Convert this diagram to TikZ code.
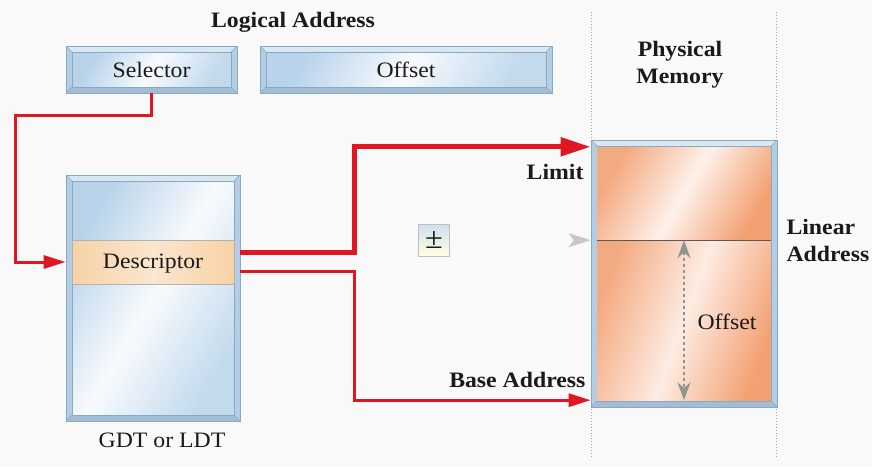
\documentclass[tikz,border=0pt]{standalone}
\usepackage{fontspec}
\setmainfont{Liberation Serif}[FakeStretch=1.08]
\usetikzlibrary{arrows.meta}
\definecolor{bgc}{HTML}{F9F9F9}
\definecolor{bordc}{HTML}{86A9C6}
\definecolor{bevelc}{HTML}{B3CEE4}
\definecolor{lightb}{HTML}{B8D3EA}
\definecolor{redl}{HTML}{E01620}
\definecolor{orng}{HTML}{F3A173}
\definecolor{descc}{HTML}{F7D2A6}
\definecolor{txt}{HTML}{1A1A1A}
\begin{document}
\begin{tikzpicture}[x=1pt,y=-1pt,
  every node/.style={text=txt, font=\fontsize{22}{26}\selectfont},
  hdr/.style={font=\fontsize{22}{27}\selectfont\bfseries},
  bevel/.style 2 args={draw=bordc, line width=0.7pt, fill=bevelc, inner sep=0pt,
    path picture={
      \coordinate (ppa) at (path picture bounding box.north west);
      \coordinate (ppb) at (path picture bounding box.south east);
      \coordinate (ppc) at (path picture bounding box.north east);
      \coordinate (ppd) at (path picture bounding box.south west);
      \coordinate (pia) at ([shift={(#1,#1)}]ppa);
      \coordinate (pib) at ([shift={(-#1,-#1)}]ppb);
      \coordinate (pic) at ([shift={(-#1,#1)}]ppc);
      \coordinate (pid) at ([shift={(#1,-#1)}]ppd);
      \fill[bevelc!50!white] (ppa) -- (ppc) -- (pic) -- (pia) -- cycle;
      \fill[bevelc!92!black] (ppd) -- (ppb) -- (pib) -- (pid) -- cycle;
      \shade[#2] (pia) rectangle (pib);
      \draw[bordc, line width=0.5pt] (pia) rectangle (pib);
      \draw[bordc, line width=0.5pt] (ppa) -- (pia) (ppb) -- (pib) (ppc) -- (pic) (ppd) -- (pid);
    }},
  blueglass/.style={left color=lightb, right color=lightb!85!white, middle color=white!90!lightb, shading angle=60},
  redarrow/.style={draw=redl, line width=3pt, -{Triangle[length=22pt,width=13pt]}},
  bigredarrow/.style={draw=redl, line width=5pt, -{Triangle[length=30pt,width=18pt]}},
  guide/.style={draw=gray!70, line width=0.9pt, dotted}
]
\useasboundingbox[fill=bgc] (0,0) rectangle (872,466);

% guides
\coordinate (gl1) at (591,12);
\coordinate (gl2) at (591,458);
\coordinate (gr1) at (776,12);
\coordinate (gr2) at (776,458);
\draw[guide] (gl1) -- (gl2);
\draw[guide] (gr1) -- (gr2);

% titles
\node[hdr] (logt) at (293,22) {Logical Address};
\node[hdr, align=center] (physt) at (680,65) {Physical\\Memory};
\node[hdr, align=left, anchor=west] (lint) at (783,240) {Linear\\Address};

% logical address boxes
\node[bevel={6}{blueglass}, minimum width=171pt, minimum height=47pt] (sel) at (151.5,69.5) {Selector};
\node[bevel={6}{blueglass}, minimum width=292pt, minimum height=47pt] (off) at (406,69.5) {Offset};

% GDT
\node[bevel={6}{blueglass}, minimum width=174pt, minimum height=246pt] (gdt) at (153,298) {};
\node[draw=gray!60, line width=0.5pt, inner sep=0pt, minimum width=162pt, minimum height=44pt,
  text height=17pt, text depth=5pt,
  left color=descc, right color=descc, middle color=descc!55!white] (desc) at (153,262) {Descriptor};
\node (gdtl) at (162,440) {GDT or LDT};

% physical memory
\node[bevel={6}{left color=orng, right color=orng}, minimum width=186pt, minimum height=267pt] (mem) at (684,273.5) {};
\node[inner sep=0pt, minimum width=174pt, minimum height=93pt,
  left color=orng!90!white, right color=orng, middle color=white!85!orng, shading angle=60] (memtop) at (684,193.5) {};
\node[inner sep=0pt, minimum width=174pt, minimum height=160pt,
  left color=orng!90!white, right color=orng, middle color=white!80!orng, shading angle=70] (membot) at (684,320) {};
\draw[gray!70!black, line width=0.6pt] (memtop.south west) -- (memtop.south east);
\node (offt) at (727,322) {Offset};

% plus-minus
\node[draw=gray!50, line width=0.5pt, minimum width=31pt, minimum height=32pt, inner sep=0pt,
  top color=lightb!70!white, bottom color=yellow!12!white, font=\fontsize{30}{30}\selectfont] (pm) at (434,240) {±};

% labels
\node[hdr, anchor=east] (limt) at (587,172) {Limit};
\node[hdr, anchor=east] (baset) at (589,380) {Base Address};

% connectors
\draw[redarrow] (sel.south) |- (15,115) |- (gdt.west |- desc.west);
\draw[bigredarrow] (gdt.east |- 0,252) -- (354,252) |- (mem.west |- memtop.north);
\draw[redarrow] (gdt.east |- 0,271) -- (354,271) |- (mem.west |- membot.south);

% gray arrowhead toward linear address
\coordinate (gtip) at (mem.west |- memtop.south);
\fill[gray!45] ([xshift=-22]gtip) ++(0,-7) -- (gtip) -- ++(-22,7) -- ++(5,-7) -- cycle;

% offset dimension
\draw[gray!85, line width=1.6pt, dashed, {Stealth[length=18pt,width=13pt]}-{Stealth[length=18pt,width=13pt]}]
  (mem.center |- memtop.south) -- (mem.center |- membot.south);
\end{tikzpicture}
\end{document}
